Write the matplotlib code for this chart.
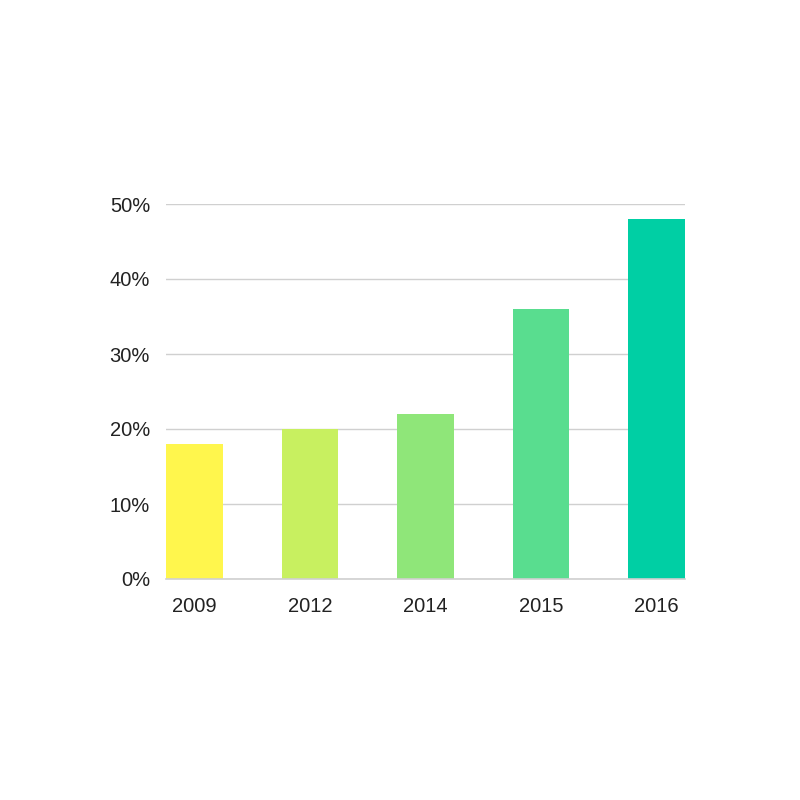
import matplotlib.pyplot as plt
import numpy as np

# Share by year (%)
years = ['2009', '2012', '2014', '2015', '2016']
values = [18, 20, 22, 36, 48]
colors = ['#FFF64D', '#C8F060', '#8FE679', '#59DD8F', '#00CFA4']

plt.rcParams['font.family'] = ['Liberation Sans', 'DejaVu Sans']

fig = plt.figure(figsize=(8, 8), dpi=100)
ax = fig.add_axes([0.2075, 0.27625, 0.64875, 0.46875])

x = np.arange(len(years))
width = 0.49
ax.bar(x, values, width=width, color=colors, zorder=3)

ax.set_xlim(-width / 2, len(years) - 1 + width / 2)
ax.set_ylim(0, 50)
ax.set_yticks(np.arange(0, 51, 10))
ax.set_yticklabels([f'{v}%' for v in range(0, 51, 10)])
ax.set_xticks(x)
ax.set_xticklabels(years)

ax.grid(axis='y', color='#d0d0d0', linewidth=1, zorder=0)
ax.axhline(0, color='#d0d0d0', linewidth=1.2, zorder=4, clip_on=False)
for s in ax.spines.values():
    s.set_visible(False)
ax.tick_params(axis='both', length=0, labelsize=14.5, colors='#222222')
ax.tick_params(axis='y', pad=11.5)
ax.tick_params(axis='x', pad=13)

fig.savefig('out.png', dpi=100, facecolor='white')
